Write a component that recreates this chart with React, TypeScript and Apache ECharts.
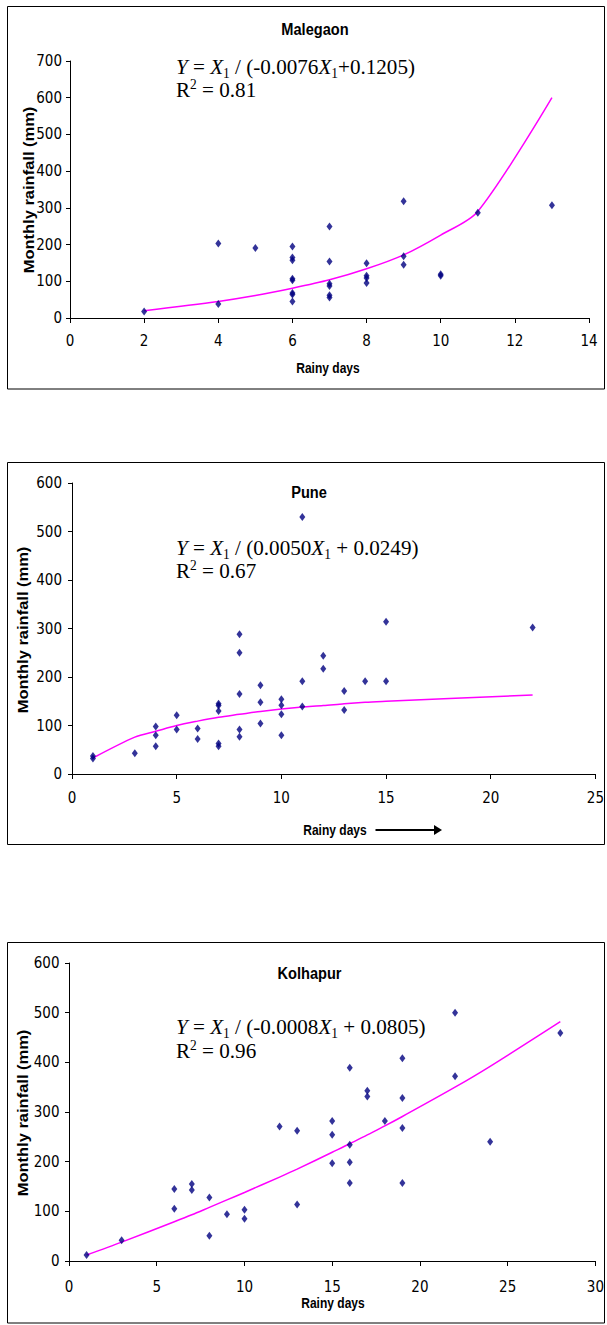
import React, { useEffect, useRef } from "react";
import * as echarts from "echarts";

// ---------- DATA ----------
const malegaonDays = [2, 4, 4, 5, 6, 6, 6, 6, 6, 6, 6, 6, 7, 7, 7, 7, 7, 7, 8, 8, 8, 8, 9, 9, 9, 10, 10, 11, 13];
const malegaonRain = [18, 203, 38, 191, 195, 165, 157, 107, 103, 68, 64, 45, 249, 154, 93, 87, 62, 56, 149, 115, 109, 95, 318, 168, 145, 119, 115, 287, 307];
const malegaonFitDays = [2, 4, 5, 6, 7, 8, 9, 10, 11, 13];
const malegaonFitRain = [20, 45, 61, 81, 104, 134, 172, 226, 290, 600];

const puneDays = [1, 1, 3, 4, 4, 4, 5, 5, 6, 6, 7, 7, 7, 7, 7, 8, 8, 8, 8, 8, 9, 9, 9, 10, 10, 10, 10, 11, 11, 11, 12, 12, 13, 13, 14, 15, 15, 22];
const puneRain = [37, 32, 43, 98, 80, 57, 121, 92, 94, 72, 145, 141, 130, 63, 57, 288, 250, 165, 92, 77, 183, 148, 104, 154, 142, 123, 80, 530, 191, 139, 244, 217, 171, 132, 191, 314, 191, 302];
const puneFitDays = [1, 3, 4, 5, 6, 7, 8, 9, 10, 11, 12, 13, 14, 15, 22];
const puneFitRain = [33, 76, 88, 100, 109, 117, 123, 129, 134, 138, 141, 145, 148, 150, 163];

const kolhapurDays = [1, 3, 6, 6, 7, 7, 8, 8, 9, 10, 10, 12, 13, 13, 15, 15, 15, 16, 16, 16, 16, 17, 17, 18, 19, 19, 19, 19, 22, 22, 24, 28];
const kolhapurRain = [12, 42, 145, 105, 155, 143, 128, 51, 94, 103, 85, 271, 262, 114, 282, 254, 197, 389, 234, 199, 157, 343, 331, 282, 408, 328, 268, 157, 500, 372, 240, 459];
const kolhapurFitDays = [1, 3, 6, 7, 8, 9, 10, 12, 13, 15, 16, 17, 18, 19, 22, 24, 28];
const kolhapurFitRain = [12, 38, 79, 93, 108, 123, 138, 169, 185, 219, 236, 254, 272, 291, 350, 392, 482];

const stationNames = ["Malegaon", "Pune", "Kolhapur"];
const equations = [
  "{i|Y} = {i|X}{s|1} / (-0.0076{i|X}{s|1}+0.1205)",
  "{i|Y} = {i|X}{s|1} / (0.0050{i|X}{s|1} + 0.0249)",
  "{i|Y} = {i|X}{s|1} / (-0.0008{i|X}{s|1} + 0.0805)",
];
const rSquared = ["0.81", "0.67", "0.96"];
const xAxisMax = [14, 25, 30];
const xAxisStep = [2, 5, 5];
const yAxisMax = [700, 600, 600];
const yAxisStep = [100, 100, 100];
const xAxisTitle = "Rainy days";
const yAxisTitle = "Monthly rainfall (mm)";

// ---------- LAYOUT ----------
const W = 607;
const H = 1325;
const layout = [
  {
    grid: { left: 70, top: 61, width: 519, height: 257 },
    box: { x: 7.5, y: 6.5, width: 597, height: 382.5 },
    title: [315, 29], eqX: 176, eqY: [67, 90],
    xName: [328, 368], yName: [28.5, 190], xMargin: 15, yMargin: 8,
  },
  {
    grid: { left: 72, top: 483, width: 526, height: 291 },
    box: { x: 7.5, y: 462.5, width: 597, height: 382 },
    title: [309, 492.5], eqX: 176, eqY: [548, 571],
    xName: [335, 830], yName: [22.6, 630], xMargin: 16, yMargin: 10,
  },
  {
    grid: { left: 69, top: 963, width: 530, height: 298 },
    box: { x: 7.5, y: 942.5, width: 597, height: 380.5 },
    title: [309.5, 973], eqX: 176, eqY: [1027, 1051],
    xName: [333, 1303], yName: [22.6, 1113], xMargin: 18, yMargin: 9.5,
  },
];

const SANS = "'Liberation Sans', Arial, sans-serif";
const NARROW = "'Liberation Sans Narrow', 'Arial Narrow', 'DejaVu Sans Condensed', sans-serif";
const SERIF = "'Liberation Serif', 'Times New Roman', serif";
const SQUEEZE = 0.86;
const EQ_SCALE = 0.96;

function zip(a: number[], b: number[]) {
  return a.map((v, i) => [v, b[i]]);
}

export default function App() {
  const ref = useRef<HTMLDivElement>(null);

  useEffect(() => {
    const chart = echarts.init(ref.current!, null, { renderer: "svg" });

    const pts = [
      zip(malegaonDays, malegaonRain),
      zip(puneDays, puneRain),
      zip(kolhapurDays, kolhapurRain),
    ];
    const fits = [
      zip(malegaonFitDays, malegaonFitRain),
      zip(puneFitDays, puneFitRain),
      zip(kolhapurFitDays, kolhapurFitRain),
    ];

    const grids = layout.map((l) => ({ ...l.grid, containLabel: false }));
    const xAxes = layout.map((l, i) => ({
      type: "value",
      gridIndex: i,
      min: 0,
      max: xAxisMax[i],
      interval: xAxisStep[i],
      axisLine: { show: true, onZero: false, lineStyle: { color: "#000", width: 1 } },
      axisTick: { show: true, inside: false, length: 5, lineStyle: { color: "#000" } },
      splitLine: { show: false },
      axisLabel: { color: "#000", fontFamily: NARROW, fontSize: 15, margin: l.xMargin },
    }));
    const yAxes = layout.map((l, i) => ({
      type: "value",
      gridIndex: i,
      min: 0,
      max: yAxisMax[i],
      interval: yAxisStep[i],
      axisLine: { show: true, onZero: false, lineStyle: { color: "#000", width: 1 } },
      axisTick: { show: true, inside: false, length: 4, lineStyle: { color: "#000" } },
      splitLine: { show: false },
      axisLabel: { color: "#000", fontFamily: NARROW, fontSize: 15, margin: l.yMargin },
    }));

    const series: any[] = [];
    layout.forEach((_, i) => {
      series.push({
        type: "line",
        xAxisIndex: i,
        yAxisIndex: i,
        data: fits[i],
        showSymbol: false,
        smooth: 0.3,
        lineStyle: { color: "#ff00ff", width: 1.5 },
        z: 2,
      });
      series.push({
        type: "scatter",
        xAxisIndex: i,
        yAxisIndex: i,
        data: pts[i],
        symbol: "diamond",
        symbolSize: [6, 8],
        itemStyle: { color: "#000080" },
        z: 3,
      });
    });

    const richEq = {
      i: { fontStyle: "italic", fontFamily: SERIF, fontSize: 22, fill: "#000" },
      s: { fontFamily: SERIF, fontSize: 14, lineHeight: 13, verticalAlign: "bottom", fill: "#000" },
      p: { fontFamily: SERIF, fontSize: 14, lineHeight: 13, verticalAlign: "top", fill: "#000" },
    };

    const graphics: any[] = [];
    layout.forEach((l, i) => {
      graphics.push({
        type: "rect",
        shape: l.box,
        style: { fill: "none", stroke: "#000", lineWidth: 1 },
        silent: true,
      });
      graphics.push({
        type: "text",
        x: l.title[0],
        y: l.title[1],
        scaleX: SQUEEZE,
        style: {
          text: stationNames[i],
          fontFamily: SANS,
          fontWeight: "bold",
          fontSize: 17,
          fill: "#000",
          align: "center",
          verticalAlign: "middle",
        },
      });
      graphics.push({
        type: "text",
        x: l.eqX,
        y: l.eqY[0],
        scaleX: EQ_SCALE,
        style: {
          text: equations[i],
          fontFamily: SERIF,
          fontSize: 22,
          lineHeight: 26,
          fill: "#000",
          align: "left",
          verticalAlign: "middle",
          rich: richEq,
        },
      });
      graphics.push({
        type: "text",
        x: l.eqX,
        y: l.eqY[1],
        scaleX: EQ_SCALE,
        style: {
          text: "R{p|2} = " + rSquared[i],
          fontFamily: SERIF,
          fontSize: 22,
          lineHeight: 26,
          fill: "#000",
          align: "left",
          verticalAlign: "middle",
          rich: richEq,
        },
      });
      graphics.push({
        type: "text",
        x: l.xName[0],
        y: l.xName[1],
        scaleX: SQUEEZE,
        style: {
          text: xAxisTitle,
          fontFamily: SANS,
          fontWeight: "bold",
          fontSize: 14,
          fill: "#000",
          align: "center",
          verticalAlign: "middle",
        },
      });
      graphics.push({
        type: "text",
        x: l.yName[0],
        y: l.yName[1],
        rotation: Math.PI / 2,
        scaleY: SQUEEZE,
        style: {
          text: yAxisTitle,
          fontFamily: SANS,
          fontWeight: "bold",
          fontSize: 16.5,
          fill: "#000",
          align: "center",
          verticalAlign: "middle",
        },
      });
    });
    // arrow next to "Rainy days" in Pune panel
    graphics.push({
      type: "line",
      shape: { x1: 375.5, y1: 830, x2: 435, y2: 830 },
      style: { stroke: "#000", lineWidth: 2 },
    });
    graphics.push({
      type: "polygon",
      shape: { points: [[434, 825], [442, 830], [434, 835]] },
      style: { fill: "#000" },
    });

    chart.setOption({
      animation: false,
      backgroundColor: "#fff",
      grid: grids,
      xAxis: xAxes,
      yAxis: yAxes,
      series,
      graphic: graphics,
    });

    return () => chart.dispose();
  }, []);

  return (
    <div
      ref={ref}
      style={{ position: "absolute", left: 0, top: 0, width: W, height: H, background: "#fff" }}
    />
  );
}
